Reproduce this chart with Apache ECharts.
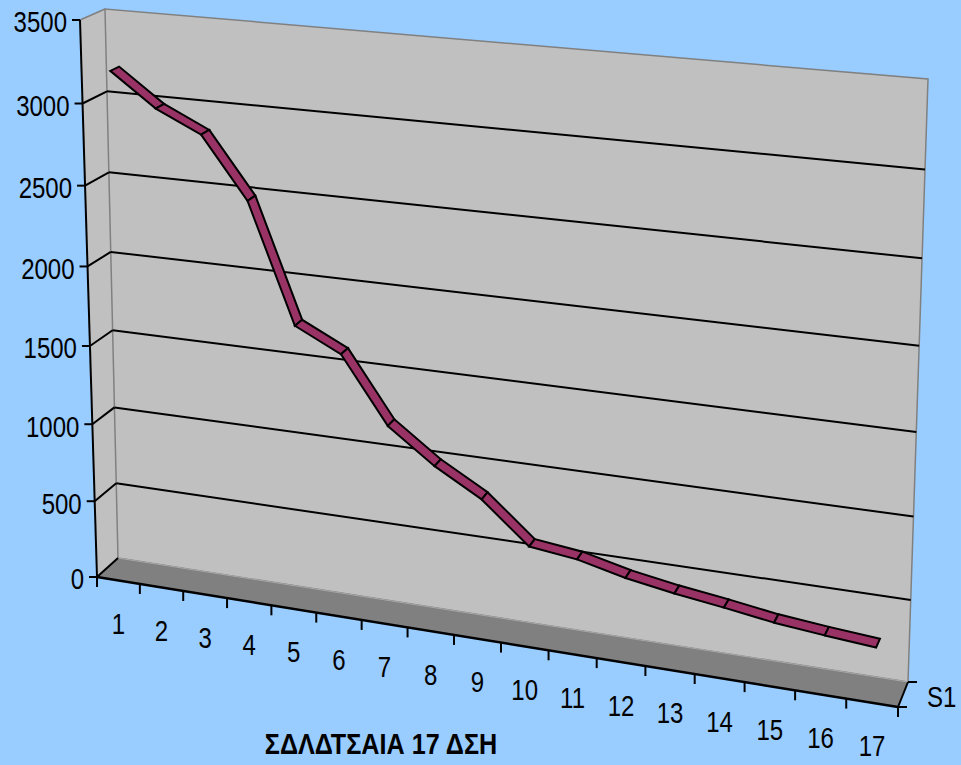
<!DOCTYPE html>
<html>
<head>
<meta charset="utf-8">
<script src="https://cdn.jsdelivr.net/npm/echarts@6/dist/echarts.min.js"></script>
<style>
html,body{margin:0;padding:0;background:#99CCFF;}
#chart{width:961px;height:765px;}
</style>
</head>
<body>
<div id="chart"></div>
<script>
// ---------------- data ----------------
const categories = ['1','2','3','4','5','6','7','8','9','10','11','12','13','14','15','16','17'];
const values = [3190, 2990, 2860, 2490, 1760, 1620, 1215, 1005, 840, 590, 555, 485, 435, 395, 350, 320, 295];
const yTicks = [0, 500, 1000, 1500, 2000, 2500, 3000, 3500];
const seriesName = 'S1';
const axisTitle = 'ΣΔΛΔΤΣΑΙΑ 17 ΔΣΗ';

// ---------------- 3D frame (layout) ----------------
const FRONT = {L0:[97,577], L1:[80,20], R0:[898,707], R1:[914,96]};
const BACK  = {L0:[118,558], L1:[105,9], R0:[908,682], R1:[928,79]};
const GU = -0.0954, HV = -0.055;
const RIB_Z1 = 0.27, RIB_Z2 = 0.63;
const FONT = '"Liberation Sans",Arial,sans-serif';
const SX = 0.8;

function g(u){ return (1+GU)*u/(1+GU*u); }
function h(v){ return (1+HV)*v/(1+HV*v); }
function plane(P,u,v){
  const hv=h(v), gu=g(u);
  const lx=P.L0[0]+(P.L1[0]-P.L0[0])*hv, ly=P.L0[1]+(P.L1[1]-P.L0[1])*hv;
  const rx=P.R0[0]+(P.R1[0]-P.R0[0])*hv, ry=P.R0[1]+(P.R1[1]-P.R0[1])*hv;
  return [lx+(rx-lx)*gu, ly+(ry-ly)*gu];
}
function proj(u,v,z){
  const f=plane(FRONT,u,v), b=plane(BACK,u,v);
  return [f[0]+(b[0]-f[0])*z, f[1]+(b[1]-f[1])*z];
}
function norm(cs, pt){
  return [(pt[0]-cs.x)/cs.width, (cs.y+cs.height-pt[1])/cs.height];
}
function line(p,q,color,w){
  return {type:'line', shape:{x1:p[0],y1:p[1],x2:q[0],y2:q[1]}, style:{stroke:color,lineWidth:w}};
}
function txt(s,x,y,align,font,sx){
  return {type:'text', x:x, y:y, scaleX:sx, scaleY:1,
          style:{text:s, x:0, y:0, align:align, verticalAlign:'middle', fill:'#000', font:font}};
}

const chart = echarts.init(document.getElementById('chart'), null, {renderer:'svg'});

const option = {
  backgroundColor:'#99CCFF',
  animation:false,
  grid:{left:100, right:100, top:100, bottom:100, show:false},
  xAxis:{type:'category', data:categories, boundaryGap:true, show:false},
  yAxis:{type:'value', min:0, max:3500, interval:500, show:false},
  series:[
    {
      name:'walls', type:'custom', clip:false, silent:true, z:1,
      data:[[0,0]],
      renderItem:function(params, api){
        const c = [];
        c.push({type:'polygon', shape:{points:[proj(0,0,0),proj(0,1,0),proj(0,1,1),proj(0,0,1)]},
                style:{fill:'#C0C0C0', stroke:null}});
        c.push({type:'polygon', shape:{points:[proj(0,0,1),proj(1,0,1),proj(1,1,1),proj(0,1,1)]},
                style:{fill:'#C0C0C0', stroke:'#808080', lineWidth:1.5}});
        c.push({type:'polygon', shape:{points:[proj(0,0,0),proj(1,0,0),proj(1,0,1),proj(0,0,1)]},
                style:{fill:'#808080', stroke:null}});
        c.push(line(proj(0,1,0),proj(0,1,1),'#808080',1.5));
        c.push(line(proj(0,0,1),proj(1,0,1),'#A8A8A8',1));
        c.push(line(proj(0,0,0),proj(0,1,0),'#000',2));
        c.push(line(proj(0,0,0),proj(1,0,0),'#000',2.5));
        const d0 = proj(1,0,0), d1 = proj(1,0,1);
        c.push(line(d0,d1,'#000',2));
        c.push(line(d0,[d0[0]+9,d0[1]],'#000',2));
        c.push(line(d1,[d1[0]+9,d1[1]],'#000',2));
        c.push(txt(seriesName, (d0[0]+d1[0])/2+24, (d0[1]+d1[1])/2+2, 'left', '30px '+FONT, SX));
        c.push(txt(axisTitle, 381, 744, 'center', 'bold 30px '+FONT, 0.84));
        return {type:'group', children:c};
      }
    },
    {
      name:'yticks', type:'custom', clip:false, silent:true, z:2,
      data:yTicks.map(t=>[0,t]),
      renderItem:function(params, api){
        const cs = params.coordSys;
        const v = norm(cs, api.coord([0, api.value(1)]))[1];
        const c = [];
        const f = proj(0,v,0), b = proj(0,v,1), r = proj(1,v,1);
        const top = params.dataIndex === yTicks.length-1;
        const bottom = params.dataIndex === 0;
        if(!top){
          c.push(line(f,b,'#000',2));
          if(!bottom) c.push(line(b,r,'#000',2));
        }
        c.push(line([f[0]-8,f[1]],f,'#000',2));
        c.push(txt(String(yTicks[params.dataIndex]), f[0]-13, f[1]+2, 'right', '30px '+FONT, SX));
        return {type:'group', children:c};
      }
    },
    {
      name:'xticks', type:'custom', clip:false, silent:true, z:2,
      data:categories.map((cat,i)=>[i,0]),
      renderItem:function(params, api){
        const cs = params.coordSys;
        const pt = api.coord([api.value(0), 0]);
        const bw = api.size([1,0])[0];
        const uc = norm(cs, pt)[0];
        const ul = uc - bw/2/cs.width, ur = uc + bw/2/cs.width;
        const c = [];
        const pl = proj(ul,0,0);
        c.push(line(pl,[pl[0],pl[1]+10],'#000',2));
        if(params.dataIndex === categories.length-1){
          const pr = proj(ur,0,0);
          c.push(line(pr,[pr[0],pr[1]+10],'#000',2));
        }
        const pc = proj(uc,0,0);
        c.push(txt(categories[params.dataIndex], pc[0], pc[1]+43, 'center', '30px '+FONT, SX));
        return {type:'group', children:c};
      }
    },
    {
      name:seriesName, type:'custom', clip:false, silent:true, z:3,
      encode:{x:0, y:1},
      data:values.slice(0,-1).map((v,i)=>[i, v, i+1, values[i+1]]),
      renderItem:function(params, api){
        const cs = params.coordSys;
        const a = norm(cs, api.coord([api.value(0), api.value(1)]));
        const b = norm(cs, api.coord([api.value(2), api.value(3)]));
        const pts = [proj(a[0],a[1],RIB_Z1), proj(b[0],b[1],RIB_Z1), proj(b[0],b[1],RIB_Z2), proj(a[0],a[1],RIB_Z2)];
        return {type:'polygon', shape:{points:pts},
                style:{fill:'#993366', stroke:'#000', lineWidth:2, lineJoin:'miter'}};
      }
    }
  ]
};
chart.setOption(option);
</script>
</body>
</html>
